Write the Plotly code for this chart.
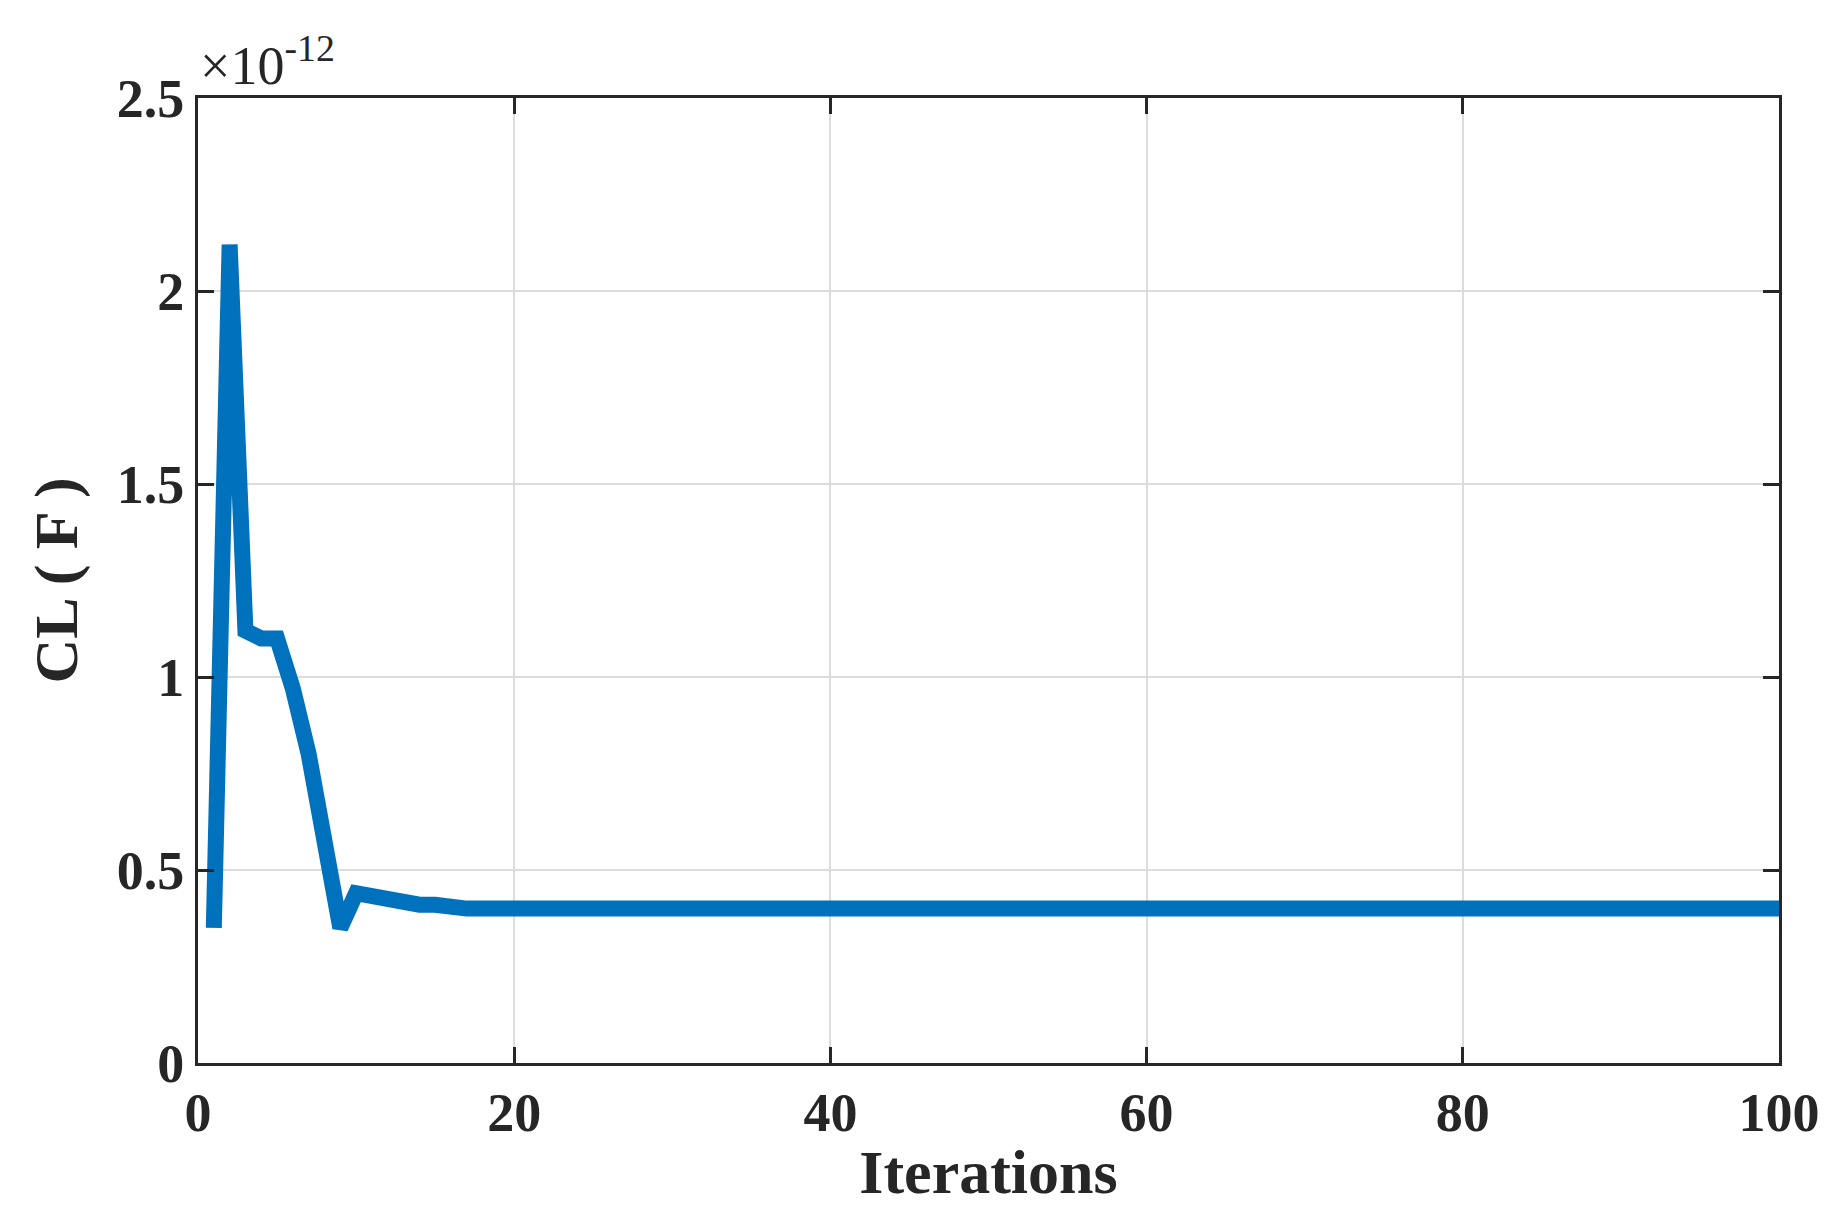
import plotly.graph_objects as go

# CL values in units of 1e-12 F
iterations = list(range(1, 101))
cl_head = [0.35, 2.12, 1.12, 1.10, 1.10, 0.97, 0.80, 0.60, 0.35, 0.44,
           0.43, 0.43, 0.41, 0.41, 0.41, 0.40]
cl = cl_head + [0.40] * (100 - len(cl_head))

y_ticks = [0, 0.5, 1, 1.5, 2, 2.5]
y_labels = ["0", "0.5", "1", "1.5", "2", "2.5"]
x_ticks = [0, 20, 40, 60, 80, 100]

font = dict(family="Liberation Serif", size=54, color="#262626")
title_font = dict(family="Liberation Serif", size=62, color="#262626")

fig = go.Figure()
fig.add_trace(go.Scatter(x=iterations, y=cl, mode="lines",
                         line=dict(color="#0072BD", width=16)))

axis_common = dict(showline=True, linecolor="#262626", linewidth=3, mirror="ticks",
                   ticks="inside", ticklen=16, tickwidth=3, tickcolor="#262626",
                   showgrid=True, gridcolor="#dcdcdc", gridwidth=2, zeroline=False,
                   tickfont=font)

fig.update_xaxes(range=[0, 100], tickvals=x_ticks,
                 ticktext=[f"<b>{t}</b>" for t in x_ticks],
                 title=dict(text="<b>Iterations</b>", font=title_font, standoff=8),
                 **axis_common)
fig.update_yaxes(range=[0, 2.5], tickvals=y_ticks,
                 ticktext=[f"<b>{t}</b>" for t in y_labels],
                 title=dict(text="<b>CL ( F )</b>", font=title_font, standoff=20),
                 **axis_common)

fig.add_annotation(text="×10<sup>-12</sup>", xref="paper", yref="paper", x=0.0, y=1.0,
                   xanchor="left", yanchor="bottom", showarrow=False,
                   font=dict(family="Liberation Serif", size=54, color="#262626"))

fig.update_layout(width=1826, height=1230, plot_bgcolor="white", paper_bgcolor="white",
                  showlegend=False, margin=dict(l=190, r=55, t=90, b=175))

fig.write_html("out.html")
